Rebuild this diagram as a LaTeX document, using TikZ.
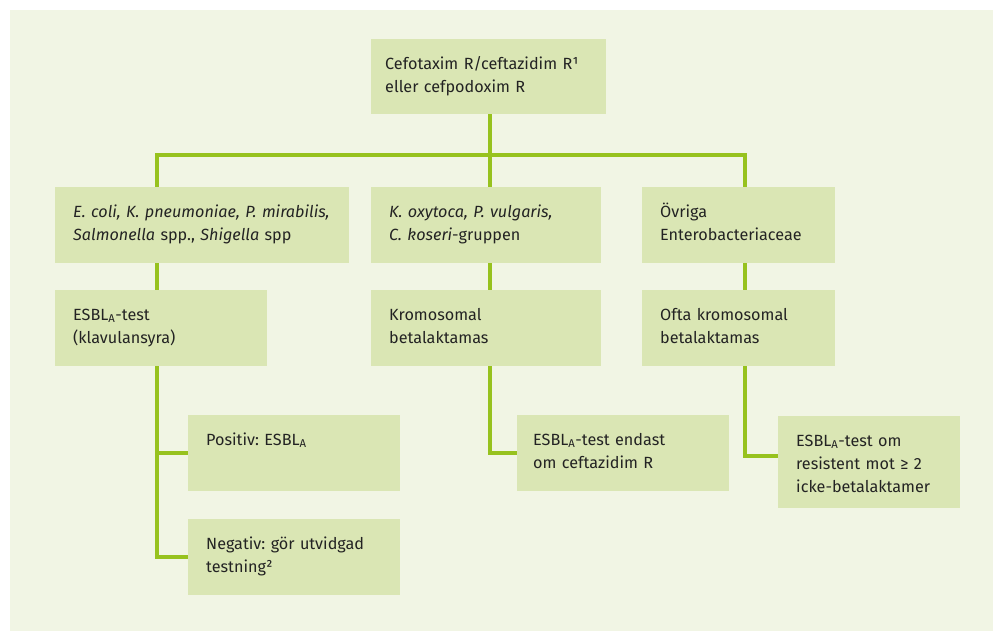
\documentclass[tikz,border=0pt]{standalone}
\usepackage{fontspec}
\setmainfont{Fira Sans}
\frenchspacing
\definecolor{panelbg}{RGB}{241,245,228}
\definecolor{boxfill}{RGB}{218,230,180}
\definecolor{linkgreen}{RGB}{151,194,30}
\definecolor{textgray}{RGB}{35,35,35}
\newcommand{\noteref}[1]{{\addfontfeature{VerticalPosition=Superior}#1}}

\begin{document}
\begin{tikzpicture} [x = 1pt, y = -1pt,
    box/.style = {fill = boxfill, text = textgray, anchor = north west, align = left,
                  inner xsep = 18pt, inner ysep = 0pt, text height = 30pt, text depth = 46pt,
                  font = \fontsize{16.2}{23}\selectfont},
    link/.style = {draw = linkgreen, line width = 4pt, line join = miter}]
    \useasboundingbox (0,0) rectangle (993,631);
    \fill [panelbg] (10,10) rectangle (993,631);

    \node (top) [box, inner xsep = 14pt, text width = 207pt, text depth = 45pt] at (371,39)
        {Cefotaxim R/ceftazidim R\noteref{1}\\eller cefpodoxim R};

    \node (A) [box, text width = 258pt] at (55,187)
        {\mbox{\textit{E. coli, K. pneumoniae, P. mirabilis,}}\\\textit{Salmonella} spp., \textit{Shigella} spp};
    \node (B) [box, text width = 194pt] at (371,187)
        {\textit{K. oxytoca, P. vulgaris,}\\\textit{C. koseri}-gruppen};
    \node (C) [box, text width = 157pt] at (642,187)
        {Övriga\\Enterobacteriaceae};

    \node (A2) [box, text width = 176pt] at (55,290) {ESBL\textsubscript{A}-test\\(klavulansyra)};
    \node (B2) [box, text width = 194pt] at (371,290) {Kromosomal\\betalaktamas};
    \node (C2) [box, text width = 157pt] at (642,290) {Ofta kromosomal\\betalaktamas};

    \node (pos) [box, text width = 176pt] at (188,415) {Positiv: ESBL\textsubscript{A}};
    \node (neg) [box, text width = 176pt] at (188,519) {Negativ: gör utvidgad\\testning\noteref{2}};
    \node (B3) [box, inner xsep = 16pt, text width = 180pt] at (517,415)
        {ESBL\textsubscript{A}-test endast\\om ceftazidim R};
    \node (C3) [box, text width = 146pt, text depth = 62pt] at (778,416)
        {ESBL\textsubscript{A}-test om\\resistent mot ≥ 2\\icke-betalaktamer};

    % spines
    \coordinate (spineA) at (157,155);
    \coordinate (spineB) at (490,155);
    \coordinate (spineC) at (745,155);

    \path [link] (spineB |- top.south) -- (spineB |- B.north);
    \path [link] (spineA |- A.north) -- (spineA) -- (spineC) -- (spineC |- C.north);

    \path [link] (spineA |- A.south) -- (spineA |- A2.north);
    \path [link] (spineB |- B.south) -- (spineB |- B2.north);
    \path [link] (spineC |- C.south) -- (spineC |- C2.north);

    \path [link] (spineA |- A2.south) |- (pos.west);
    \path [link] (spineA |- A2.south) |- (neg.west);
    \path [link] (spineB |- B2.south) |- (B3.west);
    \path [link] (spineC |- C2.south) |- ([yshift = 6pt] C3.west);
\end{tikzpicture}
\end{document}
